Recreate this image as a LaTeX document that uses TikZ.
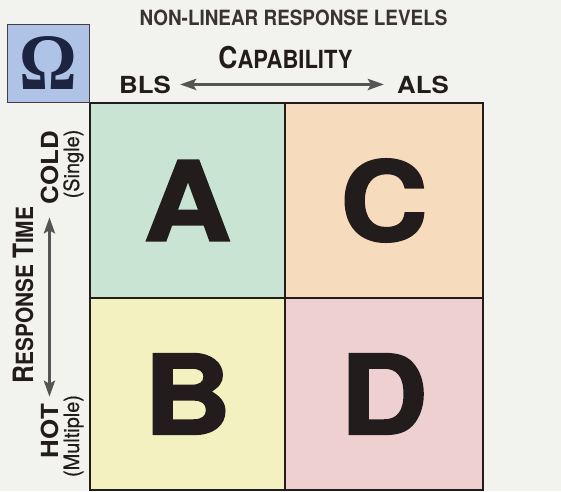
\documentclass[tikz,border=0pt]{standalone}
\usepackage{fontspec}
\setmainfont{TeX Gyre Heros}
\newfontfamily\headfont[FakeStretch=0.9]{TeX Gyre Heros}
\newfontfamily\capsfont[FakeStretch=0.88]{TeX Gyre Heros}
\newfontfamily\widefont[FakeStretch=1.1]{TeX Gyre Heros}
\newfontfamily\notefont[FakeStretch=0.95,FakeBold=0.6]{TeX Gyre Heros}
\newfontfamily\letterfont[FakeStretch=1.1,BoldFeatures={FakeBold=2}]{TeX Gyre Heros}
\newfontfamily\greekfont[FakeStretch=0.9]{Liberation Serif}
\usepackage{tikz}
\usetikzlibrary{arrows.meta,positioning}
\definecolor{ink}{HTML}{231C1C}
\definecolor{navy}{HTML}{1C2442}
\definecolor{paper}{HTML}{F2F3EF}
\definecolor{arrowgray}{HTML}{555555}
\definecolor{omegabox}{HTML}{AEC3E6}
\definecolor{cellA}{HTML}{C9E4D3}
\definecolor{cellB}{HTML}{F4F1C1}
\definecolor{cellC}{HTML}{F6DCBD}
\definecolor{cellD}{HTML}{EFD0D0}
\newcommand{\fsz}[1]{\fontsize{#1}{#1}\selectfont}

\begin{document}
\begin{tikzpicture}[x=1pt,y=-1pt,>={Stealth[length=16pt,width=11pt,inset=3pt]},
  cell/.style={draw=ink,line width=1.2pt,inner sep=0pt,outer sep=0pt,text=ink,font=\letterfont\bfseries\fsz{110}},
  widelabel/.style={inner sep=0pt,text=ink,font=\widefont\bfseries\fsz{23.5}},
  scalelabel/.style={inner sep=0pt,text=ink,font=\capsfont\bfseries},
  note/.style={inner sep=0pt,text=ink,font=\notefont\fsz{21}},
  scalearrow/.style={<->,line width=3.5pt,arrowgray}]
\fill[paper] (0,0) rectangle (561,491);
\useasboundingbox (0,0) rectangle (561,491);
% the four quadrants
\node[cell,fill=cellA,minimum width=195pt,minimum height=195pt] (A) at (187.5,200.5) {A};
\node[cell,fill=cellC,minimum width=198pt,minimum height=195pt,right=0pt of A] (C) {C};
\node[cell,fill=cellB,minimum width=195pt,minimum height=192pt,below=0pt of A] (B) {B};
\node[cell,fill=cellD,minimum width=198pt,minimum height=192pt,right=0pt of B] (D) {D};
\node[draw=ink!85,line width=1.2pt,fill=omegabox,minimum width=82pt,minimum height=78pt,inner sep=0pt,anchor=south east,text=navy,font=\greekfont\bfseries\fsz{80}] (omega) at (A.north west) {Ω};
% top scale
\node[anchor=base,inner sep=0pt,text=ink!90,font=\headfont\bfseries\fsz{21}] (title) at (293.5,25) {NON-LINEAR RESPONSE LEVELS};
\node[scalelabel,anchor=base] (capability) at (285.5,68) {\fsz{30}C\fsz{25}APABILITY};
\node[widelabel,anchor=base] (bls) at (145,93) {BLS};
\node[widelabel,anchor=base] (als) at (423,93) {ALS};
\draw[scalearrow,shorten <=9pt,shorten >=13pt] (bls.east) -- (als.west);
% left scale
\node[widelabel,rotate=90,anchor=base] (cold) at (58,167.5) {COLD};
\node[note,rotate=90,anchor=base] (single) at (79,164) {(Single)};
\node[widelabel,rotate=90,anchor=base] (hot) at (58,431) {HOT};
\node[note,rotate=90,anchor=base] (multiple) at (79,436) {(Multiple)};
\node[scalelabel,rotate=90,anchor=base] (resptime) at (33,295) {\fsz{28}R\fsz{23.7}ESPONSE \fsz{28}T\fsz{23.7}IME};
\draw[scalearrow,shorten <=13pt,shorten >=7pt] (cold.west) -- (hot.east);
\end{tikzpicture}
\end{document}
